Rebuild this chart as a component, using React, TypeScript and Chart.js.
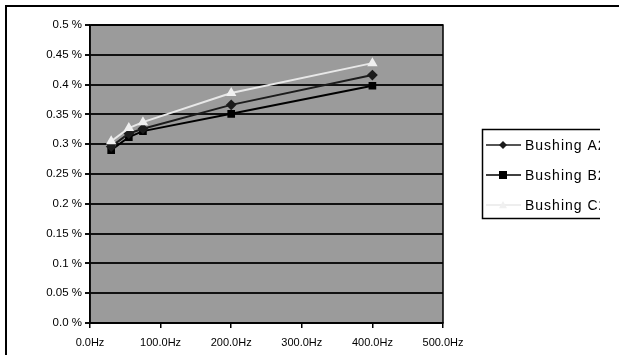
import React, { useEffect, useRef } from "react";
import { Chart, registerables } from "chart.js";

Chart.register(...registerables);

// Measurement frequencies (Hz)
const frequencies = [30, 55, 75, 200, 400];

// Dissipation factor per bushing (%)
const bushingA = [0.296, 0.318, 0.326, 0.366, 0.416];
const bushingB = [0.290, 0.312, 0.322, 0.351, 0.398];
const bushingC = [0.305, 0.327, 0.337, 0.386, 0.436];

const seriesNames = ["Bushing A2", "Bushing B2", "Bushing C2"];

// Axis tick labels, bottom to top / left to right
const yTickLabels = ["0.0 %", "0.05 %", "0.1 %", "0.15 %", "0.2 %", "0.25 %", "0.3 %", "0.35 %", "0.4 %", "0.45 %", "0.5 %"];
const xTickLabels = ["0.0Hz", "100.0Hz", "200.0Hz", "300.0Hz", "400.0Hz", "500.0Hz"];

const FONT = "'Liberation Sans', Arial, sans-serif";

function drawMarker(ctx: CanvasRenderingContext2D, style: string, x: number, y: number, r: number, color: string) {
  ctx.fillStyle = color;
  ctx.beginPath();
  if (style === "rectRot") {
    ctx.moveTo(x, y - r);
    ctx.lineTo(x + r, y);
    ctx.lineTo(x, y + r);
    ctx.lineTo(x - r, y);
  } else if (style === "rect") {
    ctx.rect(x - r, y - r, 2 * r, 2 * r);
  } else {
    ctx.moveTo(x, y - r);
    ctx.lineTo(x + r, y + r * 0.8);
    ctx.lineTo(x - r, y + r * 0.8);
  }
  ctx.closePath();
  ctx.fill();
}

const plotBackground = {
  id: "plotBackground",
  beforeDraw(chart: any) {
    const { ctx, chartArea } = chart;
    ctx.save();
    ctx.fillStyle = "#9b9b9b";
    ctx.fillRect(chartArea.left, chartArea.top, chartArea.right - chartArea.left, chartArea.bottom - chartArea.top);
    ctx.restore();
  },
  afterDraw(chart: any) {
    const { ctx, chartArea } = chart;
    ctx.save();
    ctx.strokeStyle = "#000";
    ctx.lineWidth = 1.5;
    ctx.strokeRect(chartArea.left, chartArea.top, chartArea.right - chartArea.left, chartArea.bottom - chartArea.top);
    ctx.restore();
  },
};

const sideLegend = {
  id: "sideLegend",
  afterDraw(chart: any) {
    const { ctx } = chart;
    ctx.save();
    ctx.beginPath();
    ctx.rect(0, 0, 600, chart.height);
    ctx.clip();
    ctx.strokeStyle = "#000";
    ctx.lineWidth = 1.5;
    ctx.strokeRect(482.5, 129.5, 200, 89);
    [0, 1, 2].forEach((i, row) => {
      const ds = chart.data.datasets[i];
      const y = 145 + row * 30;
      ctx.strokeStyle = ds.borderColor;
      ctx.lineWidth = 1.5;
      ctx.beginPath();
      ctx.moveTo(486, y);
      ctx.lineTo(521, y);
      ctx.stroke();
      drawMarker(ctx, ds.pointStyle, 503, y, 4, ds.pointBackgroundColor);
      ctx.fillStyle = "#000";
      ctx.font = `14px ${FONT}`;
      (ctx as any).letterSpacing = "1px";
      ctx.textBaseline = "middle";
      ctx.textAlign = "left";
      ctx.fillText(ds.label, 525, y + 1);
    });
    ctx.restore();
  },
};

export default function App() {
  const canvasRef = useRef<HTMLCanvasElement | null>(null);

  useEffect(() => {
    if (!canvasRef.current) return;
    const toPoints = (vals: number[]) => vals.map((v, i) => ({ x: frequencies[i], y: v }));
    const chart = new Chart(canvasRef.current, {
      type: "line",
      data: {
        datasets: [
          {
            label: seriesNames[0],
            data: toPoints(bushingA),
            borderColor: "#1c1c1c",
            pointBackgroundColor: "#1c1c1c",
            pointBorderColor: "#1c1c1c",
            pointStyle: "rectRot",
            pointRadius: 4,
            borderWidth: 2,
            order: 2,
          },
          {
            label: seriesNames[1],
            data: toPoints(bushingB),
            borderColor: "#000000",
            pointBackgroundColor: "#000000",
            pointBorderColor: "#000000",
            pointStyle: "rect",
            pointRadius: 4,
            borderWidth: 2,
            order: 3,
          },
          {
            label: seriesNames[2],
            data: toPoints(bushingC),
            borderColor: "#e8e8e8",
            pointBackgroundColor: "#f0f0f0",
            pointBorderColor: "#f0f0f0",
            pointStyle: "triangle",
            pointRadius: 4,
            borderWidth: 2,
            order: 1,
          },
        ],
      },
      options: {
        responsive: false,
        animation: false,
        layout: { padding: { top: 25, right: 176, left: 0, bottom: 0 } },
        plugins: { legend: { display: false }, tooltip: { enabled: false } },
        scales: {
          x: {
            type: "linear",
            min: 0,
            max: 500,
            ticks: {
              stepSize: 100,
              color: "#000",
              font: { family: FONT, size: 11 },
              padding: 8,
              maxRotation: 0,
              callback: (v: any) => xTickLabels[Math.round(Number(v) / 100)],
            },
            grid: { drawOnChartArea: false, drawTicks: true, tickLength: 5, color: "#000", lineWidth: 1.5 },
            border: { display: true, color: "#000", width: 1.5 },
            afterFit: (scale: any) => {
              scale.height = 32;
            },
          },
          y: {
            min: 0,
            max: 0.5,
            ticks: {
              stepSize: 0.05,
              color: "#000",
              font: { family: FONT, size: 11.5 },
              padding: 3,
              callback: (v: any) => yTickLabels[Math.round(Number(v) / 0.05)],
            },
            grid: { color: "#111", lineWidth: 2, tickLength: 5, drawTicks: true },
            border: { display: true, color: "#000", width: 1.5 },
            afterFit: (scale: any) => {
              scale.width = 90;
            },
          },
        },
      },
      plugins: [plotBackground, sideLegend],
    });
    return () => chart.destroy();
  }, []);

  return (
    <div
      style={{
        position: "fixed",
        left: 0,
        top: 0,
        width: 619,
        height: 355,
        background: "#fff",
        overflow: "hidden",
      }}
    >
      <div
        style={{
          position: "absolute",
          left: 5,
          top: 5,
          width: 700,
          height: 400,
          borderTop: "2px solid #000",
          borderLeft: "2px solid #000",
        }}
      />
      <canvas
        ref={canvasRef}
        width={619}
        height={355}
        style={{ position: "absolute", left: 0, top: 0, display: "block" }}
      />
    </div>
  );
}
